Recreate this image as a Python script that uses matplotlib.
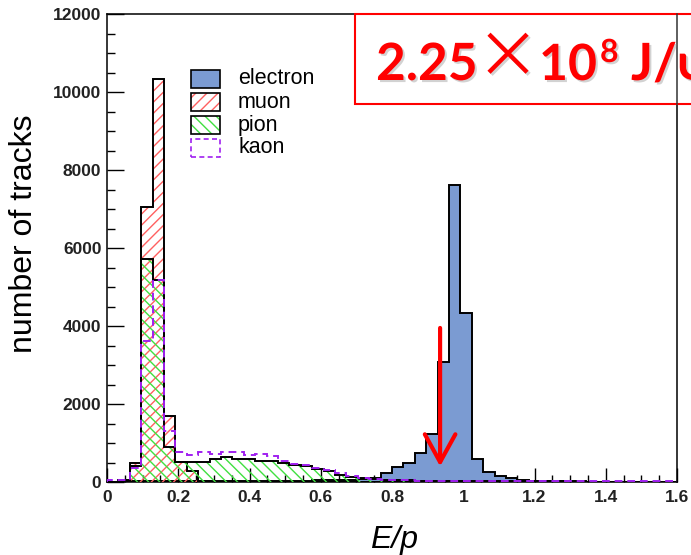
import numpy as np
import matplotlib.pyplot as plt
import matplotlib.patches as mpatches
import matplotlib.patheffects as pe
from matplotlib.lines import Line2D
from matplotlib.ticker import MultipleLocator, FormatStrFormatter

plt.rcParams['font.family'] = ['Liberation Sans', 'DejaVu Sans']
plt.rcParams['hatch.linewidth'] = 1.0

# ── data: 50 bins of E/p from 0 to 1.6 ───────────────────────────────────────
edges = np.linspace(0, 1.6, 51)

electron = [0, 10, 20, 25, 30, 30, 30, 30, 30, 30,
            30, 30, 30, 30, 30, 30, 35, 35, 40, 45,
            50, 60, 75, 100, 235, 390, 500, 750, 1240, 3070,
            7610, 4330, 600, 265, 150, 100, 60, 30, 25, 25,
            25, 25, 5, 5, 4, 4, 3, 3, 2, 2]

muon = [0, 60, 480, 7040, 10330, 1700, 510, 270, 30, 10,
        8, 6, 5, 5, 4, 4, 3, 3, 3, 2,
        2, 2, 2, 2, 2, 2, 2, 2, 2, 2,
        2, 2, 2, 1, 1, 1, 1, 1, 1, 1,
        1, 1, 1, 1, 1, 1, 1, 1, 1, 1]

pion = [0, 20, 420, 5720, 5170, 900, 510, 520, 520, 590,
        635, 595, 595, 550, 545, 490, 440, 400, 340, 270,
        190, 130, 95, 70, 55, 45, 40, 38, 35, 33,
        30, 28, 25, 22, 20, 18, 16, 15, 14, 13,
        12, 11, 10, 9, 8, 8, 7, 6, 6, 5]

kaon = [60, 60, 360, 3610, 5170, 1310, 760, 700, 760, 720,
        760, 760, 700, 720, 660, 530, 470, 430, 370, 300,
        220, 150, 100, 70, 55, 45, 40, 38, 36, 34,
        32, 30, 28, 26, 25, 24, 23, 22, 21, 20,
        20, 19, 18, 18, 17, 16, 16, 15, 15, 15]

labels = ['electron', 'muon', 'pion', 'kaon']

# cut marker (arrow) position
arrow_x, arrow_tail, arrow_tip = 0.935, 3950, 400

# ── figure ────────────────────────────────────────────────────────────────────
W, H = 691, 555
fig = plt.figure(figsize=(W / 100, H / 100), dpi=100)
ax = fig.add_axes([107 / W, 1 - 482 / H, 570 / W, 468 / H])

blue = '#7b9bd2'
red_h = '#ff6060'
green_h = '#40e040'
purple = '#a020f0'
lw = 1.4

ax.stairs(electron, edges, fill=True, facecolor=blue, edgecolor='none', zorder=2)
ax.stairs(electron, edges, color='black', lw=lw, zorder=2.1)

ax.stairs(muon, edges, fill=True, facecolor='none', edgecolor=red_h,
          hatch='///', lw=0, zorder=3)
ax.stairs(muon, edges, color='black', lw=lw, zorder=3.1)

ax.stairs(pion, edges, fill=True, facecolor='none', edgecolor=green_h,
          hatch='\\\\\\', lw=0, zorder=4)
ax.stairs(pion, edges, color='black', lw=lw, zorder=4.1)

ax.stairs(kaon, edges, color=purple, lw=lw, ls=(0, (4, 2.5)), zorder=5)

# arrow
ax.annotate('', xy=(arrow_x, arrow_tip), xytext=(arrow_x, arrow_tail),
            arrowprops=dict(arrowstyle='->,head_length=1.0,head_width=0.55',
                            color='red', lw=3, mutation_scale=20,
                            shrinkA=0, shrinkB=0), zorder=6)

ax.set_xlim(0, 1.6)
ax.set_ylim(0, 12000)
ax.xaxis.set_major_locator(MultipleLocator(0.2))
ax.xaxis.set_minor_locator(MultipleLocator(0.05))
ax.xaxis.set_major_formatter(FormatStrFormatter('%g'))
ax.yaxis.set_major_locator(MultipleLocator(2000))
ax.yaxis.set_minor_locator(MultipleLocator(500))
ax.tick_params(which='both', direction='in', top=False, right=False,
               width=1.0, labelsize=12.5)
ax.tick_params(axis='y', which='major', length=12, pad=4)
ax.tick_params(axis='y', which='minor', length=6)
ax.tick_params(axis='x', which='major', length=10, pad=6)
ax.tick_params(axis='x', which='minor', length=5)
for t in ax.get_xticklabels() + ax.get_yticklabels():
    t.set_fontweight('bold')
    t.set_color('#222222')
for s in ax.spines.values():
    s.set_linewidth(1.1)

# ── legend, drawn by hand in figure pixels ───────────────────────────────────
tf = fig.transFigure
leg_styles = [
    [dict(facecolor=blue, edgecolor='black', lw=1.2)],
    [dict(facecolor='white', edgecolor=red_h, hatch='///', lw=0),
     dict(facecolor='none', edgecolor='black', lw=1.2)],
    [dict(facecolor='white', edgecolor=green_h, hatch='\\\\\\', lw=0),
     dict(facecolor='none', edgecolor='black', lw=1.2)],
    [dict(facecolor='none', edgecolor=purple, lw=1.2, ls=(0, (3, 2)))],
]
for i, (lab, styles) in enumerate(zip(labels, leg_styles)):
    yc = 79 + i * 23
    for st in styles:
        fig.add_artist(mpatches.Rectangle((191 / W, 1 - (yc + 9) / H), 29 / W, 18 / H,
                                          transform=tf, zorder=2, **st))
    fig.text(238 / W, 1 - yc / H, lab, ha='left', va='center', fontsize=15.5)

fig.text(24 / W, 1 - 234 / H, 'number of tracks', rotation=90,
         ha='center', va='center', fontsize=23)
fig.text(394 / W, 1 - 540 / H, 'E/p', style='italic', ha='center',
         va='center', fontsize=23)

# red caption box at the top right, running off the edge
box = mpatches.Rectangle((355 / W, 1 - 104 / H), (730 - 355) / W, 90 / H,
                         transform=tf, facecolor='white',
                         edgecolor='red', lw=1.5, zorder=1)
fig.add_artist(box)
fig.add_artist(Line2D([677 / W, 677 / W], [1 - 14 / H, 1 - 104 / H],
                      transform=tf, color='#333333', lw=1.1, zorder=1.5))

shadow = [pe.withSimplePatchShadow(offset=(1.5, -1.5), shadow_rgbFace='grey', alpha=0.35)]
big = dict(color='red', fontweight='bold', family=['Lato', 'DejaVu Sans'],
           va='baseline', ha='left', path_effects=shadow, zorder=3)
yb = 1 - 80 / H
fig.text(376 / W, yb, '2.25', fontsize=37, **big)
fig.text(508 / W, 1 - 59 / H, '\u00d7', fontsize=46, color='red',
         family=['Noto Sans CJK SC', 'DejaVu Sans'], ha='center', va='center',
         path_effects=shadow, zorder=3)
fig.text(539 / W, yb, '10', fontsize=36, **big)
fig.text(600 / W, 1 - 62 / H, '8', fontsize=23, **big)
fig.text(631 / W, yb, 'J/\u03c8', fontsize=37, **big)

plt.savefig('out.png', dpi=100)
